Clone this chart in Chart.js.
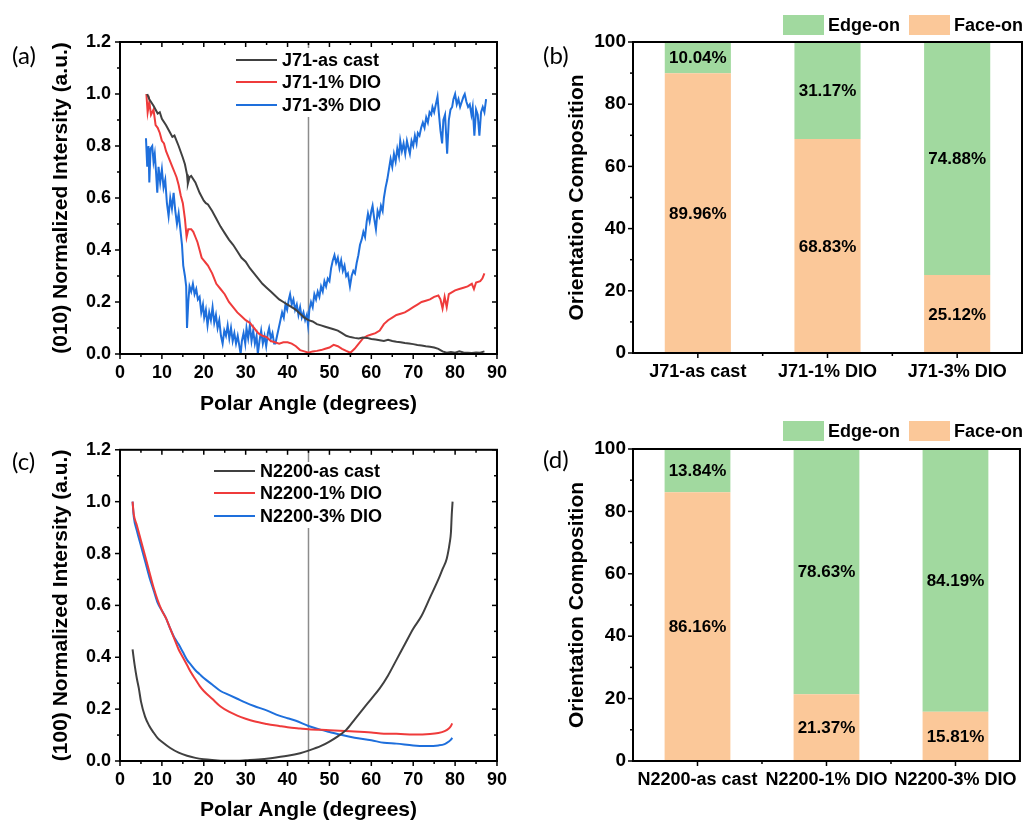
<!DOCTYPE html>
<html>
<head>
<meta charset="utf-8">
<script src="https://cdn.jsdelivr.net/npm/chart.js@4.4.0/dist/chart.umd.min.js"></script>
<style>
  body { margin: 0; background: #fff; width: 1025px; height: 823px; position: relative; overflow: hidden; }
  canvas { position: absolute; }
  .tag { position: absolute; font-family: Lato, 'Open Sans', sans-serif; font-size: 24px; line-height: 28px; color: #000; }
</style>
</head>
<body>
<canvas id="pa" width="515" height="420" style="left:0;top:0"></canvas>
<canvas id="pb" width="505" height="400" style="left:520px;top:0"></canvas>
<canvas id="pc" width="515" height="393" style="left:0;top:430px"></canvas>
<canvas id="pd" width="505" height="413" style="left:520px;top:410px"></canvas>
<div class="tag" style="left:12px;top:41px">(a)</div>
<div class="tag" style="left:543px;top:41px">(b)</div>
<div class="tag" style="left:12px;top:447px">(c)</div>
<div class="tag" style="left:543px;top:445px">(d)</div>
<script>
// ── Data: (a) J71, (010) intensity vs polar angle ──
const j71CastX = [6.5,7,8,9,9.5,10,11,12,12.5,13,14,15,15.5,16,16.2,16.6,17,18,19,20,20.5,21,22,23,24,25,26,27,28,29,30,31,32,33,34,35,36,37,38,39,40,41,42,43,44,45,46,47,48,49,50,51,52,53,54,55,56,57,58,59,60,61,62,63,64,65,66,67,68,69,70,71,72,73,74,75,76,77,78,79,80,81,82,83,84,85,86,87];
const j71CastY = [1.0,0.98,0.955,0.925,0.93,0.905,0.88,0.85,0.835,0.84,0.80,0.755,0.73,0.69,0.655,0.68,0.685,0.66,0.62,0.59,0.58,0.575,0.55,0.52,0.49,0.465,0.44,0.42,0.395,0.37,0.355,0.33,0.31,0.29,0.27,0.255,0.24,0.225,0.21,0.20,0.19,0.18,0.17,0.155,0.14,0.13,0.125,0.115,0.11,0.105,0.10,0.095,0.09,0.08,0.07,0.065,0.062,0.06,0.063,0.062,0.058,0.056,0.053,0.05,0.055,0.05,0.047,0.045,0.042,0.04,0.038,0.035,0.033,0.03,0.028,0.025,0.02,0.01,0.005,0.008,0.005,0.01,0.006,0.005,0.004,0.006,0.005,0.01];

const j71Dio1X = [6.3,6.6,7,7.4,8,8.5,9,9.5,10,10.5,11,11.5,12,12.5,13,13.5,14,14.5,15,15.5,15.9,16.3,17,17.5,18,18.5,19,19.5,20,20.5,21,22,23,24,25,26,27,28,29,30,31,32,33,34,35,36,37,38,39,40,41,42,43,44,45,46,47,48,49,50,51,52,53,54,55,56,57,58,59,60,61,62,63,64,65,66,67,68,69,70,71,72,73,74,75,76,76.5,77,77.5,78,78.5,79,80,81,82,83,84,84.5,85,86,86.5,87];
const j71Dio1Y = [1.0,0.93,0.97,0.92,0.94,0.88,0.87,0.85,0.82,0.81,0.78,0.76,0.74,0.72,0.70,0.68,0.65,0.61,0.58,0.52,0.45,0.48,0.48,0.47,0.45,0.43,0.40,0.37,0.36,0.35,0.34,0.31,0.27,0.25,0.23,0.20,0.18,0.16,0.145,0.13,0.12,0.10,0.08,0.07,0.065,0.05,0.045,0.04,0.045,0.045,0.04,0.03,0.015,0.01,0.005,0.01,0.012,0.015,0.02,0.025,0.035,0.03,0.02,0.012,0.005,0.02,0.04,0.06,0.07,0.075,0.08,0.09,0.115,0.13,0.14,0.15,0.155,0.16,0.17,0.18,0.19,0.20,0.205,0.21,0.22,0.225,0.21,0.175,0.22,0.18,0.23,0.235,0.245,0.25,0.255,0.26,0.27,0.25,0.275,0.28,0.29,0.31];

const j71Dio3X = [6.2,6.5,6.8,7.0,7.3,7.7,8.0,8.3,8.6,8.9,9.2,9.6,10.0,10.4,10.8,11.2,11.6,12.0,12.4,12.8,13.2,13.6,14.0,14.4,14.8,15.1,15.5,15.8,16.0,16.3,16.6,17.0,17.4,17.8,18.2,18.6,19.0,19.4,19.8,20.1,20.5,20.9,21.3,21.7,22.1,22.5,22.9,23.3,23.7,24.1,24.5,24.9,25.3,25.7,26.1,26.5,26.9,27.3,27.7,28.1,28.5,28.8,29.1,29.5,29.9,30.2,30.6,31.0,31.4,31.8,32.2,32.6,32.9,33.3,33.7,34.1,34.5,34.9,35.3,35.6,36.0,36.4,36.8,37.1,37.5,37.9,38.3,38.7,39.1,39.5,39.9,40.3,40.6,41.0,41.4,41.8,42.2,42.6,43.0,43.4,43.8,44.2,44.6,44.9,45.2,45.6,46.0,46.4,46.8,47.2,47.6,48.0,48.4,48.8,49.2,49.6,50.0,50.4,50.8,51.2,51.6,52.0,52.4,52.8,53.2,53.6,54.0,54.4,54.9,55.3,55.7,56.1,56.5,56.9,57.3,57.7,58.1,58.5,58.9,59.2,59.6,60.0,60.3,60.7,61.1,61.5,61.9,62.3,62.7,63.0,63.4,63.8,64.2,64.6,65.0,65.4,65.8,66.2,66.6,66.9,67.3,67.7,68.1,68.5,68.9,69.2,69.6,70.0,70.4,70.8,71.1,71.5,71.9,72.3,72.7,73.1,73.5,73.9,74.3,74.6,75.0,75.4,75.8,76.1,76.5,76.9,77.2,77.6,78.1,78.5,78.9,79.3,79.6,80.0,80.4,80.8,81.2,81.6,82.0,82.3,82.7,83.1,83.5,83.9,84.2,84.6,85.0,85.4,85.8,86.2,86.6,87.0,87.4];
const j71Dio3Y = [0.83,0.72,0.80,0.66,0.79,0.80,0.74,0.77,0.70,0.62,0.72,0.66,0.71,0.64,0.67,0.58,0.53,0.60,0.56,0.62,0.55,0.50,0.54,0.48,0.42,0.34,0.30,0.26,0.10,0.20,0.26,0.24,0.27,0.23,0.25,0.21,0.22,0.16,0.19,0.14,0.17,0.11,0.16,0.13,0.18,0.12,0.15,0.10,0.13,0.07,0.04,0.09,0.07,0.11,0.06,0.10,0.05,0.08,0.04,0.07,0.03,0.0,0.05,0.08,0.04,0.10,0.06,0.11,0.05,0.09,0.04,0.07,0.0,0.05,0.09,0.04,0.07,0.03,0.08,0.10,0.06,0.08,0.04,0.04,0.07,0.10,0.13,0.16,0.14,0.19,0.17,0.21,0.23,0.19,0.21,0.17,0.19,0.15,0.18,0.14,0.16,0.13,0.15,0.11,0.17,0.20,0.18,0.23,0.21,0.24,0.22,0.26,0.24,0.28,0.26,0.29,0.28,0.33,0.36,0.38,0.35,0.37,0.33,0.36,0.32,0.34,0.30,0.31,0.26,0.30,0.32,0.31,0.35,0.38,0.42,0.44,0.47,0.45,0.51,0.54,0.51,0.55,0.57,0.52,0.48,0.55,0.53,0.57,0.55,0.60,0.64,0.67,0.71,0.75,0.72,0.77,0.74,0.79,0.76,0.82,0.78,0.81,0.77,0.82,0.79,0.77,0.82,0.80,0.84,0.81,0.85,0.84,0.87,0.89,0.87,0.91,0.89,0.93,0.92,0.95,0.93,0.96,0.99,0.93,0.86,0.81,0.90,0.92,0.77,0.90,0.94,0.95,0.98,1.0,0.96,0.98,0.95,0.97,0.99,1.0,0.97,0.95,0.96,0.92,0.95,0.84,0.94,0.92,0.84,0.93,0.95,0.93,0.98];

// ── Data: (c) N2200, (100) intensity vs polar angle ──
const n22CastX = [3,3.5,4,4.5,5,6,7,8,9,10,12,14,16,18,20,22,25,28,30,33,36,40,43,45,48,50,52,54,56,58,60,62,64,66,68,70,72,74,76,77,78,78.7,79,79.2,79.4];
const n22CastY = [0.43,0.37,0.32,0.28,0.23,0.17,0.135,0.11,0.088,0.074,0.05,0.032,0.02,0.012,0.007,0.004,0.001,0.001,0.003,0.006,0.011,0.02,0.03,0.04,0.058,0.075,0.095,0.12,0.16,0.20,0.24,0.28,0.33,0.39,0.45,0.51,0.56,0.63,0.70,0.74,0.78,0.84,0.88,0.95,1.0];

const n22Dio1X = [3,3.3,4,5,6,7,8,9,10,11,12,13,14,15,16,17,18,19,20,22,24,26,28,30,32,35,38,40,43,45,50,55,60,63,66,70,74,76,77.5,78.5,79,79.3];
const n22Dio1Y = [1.0,0.95,0.91,0.85,0.79,0.73,0.67,0.62,0.58,0.55,0.51,0.47,0.43,0.40,0.37,0.34,0.315,0.29,0.27,0.24,0.21,0.19,0.175,0.163,0.153,0.143,0.135,0.13,0.125,0.122,0.119,0.115,0.11,0.105,0.105,0.102,0.104,0.108,0.115,0.125,0.135,0.145];

const n22Dio3X = [3,3.3,4,5,6,7,8,9,10,11,12,13,14,15,16,17,18,19,20,22,24,26,28,30,32,35,38,40,42,45,48,50,53,56,60,63,66,70,73,76,77.5,78.5,79,79.3];
const n22Dio3Y = [1.0,0.94,0.89,0.83,0.77,0.71,0.66,0.61,0.58,0.55,0.51,0.475,0.45,0.42,0.39,0.37,0.35,0.335,0.32,0.295,0.27,0.255,0.24,0.225,0.212,0.195,0.175,0.165,0.155,0.135,0.12,0.112,0.10,0.09,0.08,0.07,0.067,0.06,0.058,0.06,0.065,0.075,0.082,0.09];

// ── Data: (b), (d) orientation composition (%) ──
const j71Samples = ['J71-as cast', 'J71-1% DIO', 'J71-3% DIO'];
const j71FaceOn = [89.96, 68.83, 25.12];
const j71EdgeOn = [10.04, 31.17, 74.88];
const n22Samples = ['N2200-as cast', 'N2200-1% DIO', 'N2200-3% DIO'];
const n22FaceOn = [86.16, 21.37, 15.81];
const n22EdgeOn = [13.84, 78.63, 84.19];

// ── Styles ──
const FONT = "'Liberation Sans', Arial, sans-serif";
const BLACK = '#404040', RED = '#ef3b3b', BLUE = '#1e6fdc';
const GREEN = '#a1d99f', ORANGE = '#fbc899';

Chart.defaults.font.family = FONT;
Chart.defaults.font.weight = 'bold';
Chart.defaults.color = '#000';

const pts = (xs, ys) => xs.map((x, i) => ({ x: x, y: ys[i] }));

// frame, minor ticks, 45° line, legends, bar labels
const decor = {
  id: 'decor',
  beforeDatasetsDraw(chart, args, o) {
    if (o.vline == null) return;
    const ctx = chart.ctx, a = chart.chartArea;
    const x = chart.scales.x.getPixelForValue(o.vline);
    ctx.save();
    ctx.strokeStyle = '#8c8c8c';
    ctx.lineWidth = 1.5;
    ctx.beginPath(); ctx.moveTo(x, a.top); ctx.lineTo(x, a.bottom); ctx.stroke();
    ctx.restore();
  },
  afterDatasetsDraw(chart, args, o) {
    const ctx = chart.ctx;
    ctx.save();
    if (o.lineLegend) {
      const L = o.lineLegend;
      ctx.fillStyle = '#fff';
      ctx.fillRect(L.box[0], L.box[1], L.box[2], L.box[3]);
      ctx.font = 'bold 18px ' + FONT;
      ctx.textBaseline = 'middle';
      chart.data.datasets.forEach((ds, i) => {
        const y = L.ys[i];
        ctx.strokeStyle = ds.borderColor; ctx.lineWidth = 2;
        ctx.beginPath(); ctx.moveTo(L.x0, y); ctx.lineTo(L.x1, y); ctx.stroke();
        ctx.fillStyle = '#000';
        ctx.fillText(ds.label, L.tx, y + 1);
      });
    }
    if (o.barLegend) {
      const L = o.barLegend;
      ctx.font = 'bold 18px ' + FONT;
      ctx.textBaseline = 'middle';
      L.order.forEach((di, k) => {
        const ds = chart.data.datasets[di];
        ctx.fillStyle = ds.backgroundColor;
        ctx.fillRect(L.xs[k], L.y, 41, 20);
        ctx.fillStyle = '#000';
        ctx.fillText(ds.label, L.xs[k] + 45, L.y + 11);
      });
    }
    if (o.barLabels) {
      ctx.font = 'bold 17px ' + FONT;
      ctx.textAlign = 'center';
      ctx.textBaseline = 'middle';
      ctx.fillStyle = '#000';
      chart.data.datasets.forEach((ds, i) => {
        chart.getDatasetMeta(i).data.forEach((bar, j) => {
          const p = bar.getProps(['x', 'y', 'base'], true);
          ctx.fillText(ds.data[j].toFixed(2) + '%', p.x, (p.y + p.base) / 2 + 1);
        });
      });
    }
    ctx.restore();
  },
  afterDraw(chart, args, o) {
    const ctx = chart.ctx, a = chart.chartArea;
    const sx = chart.scales.x, sy = chart.scales.y;
    ctx.save();
    ctx.strokeStyle = '#000';
    ctx.lineWidth = 1.5;
    const seg = (x1, y1, x2, y2) => { ctx.beginPath(); ctx.moveTo(x1, y1); ctx.lineTo(x2, y2); ctx.stroke(); };
    const mids = v => v.slice(1).map((t, i) => (t + v[i]) / 2);

    let xMaj, xMin;
    if (sx.type === 'category') {
      xMaj = sx.getLabels().map((_, i) => i);
      xMin = xMaj.slice(1).map(i => i - 0.5);
    } else {
      xMaj = sx.ticks.map(t => t.value);
      xMin = mids(xMaj);
    }
    const yMaj = sy.ticks.map(t => t.value);
    const yMin = mids(yMaj);

    xMaj.forEach(v => { const p = sx.getPixelForValue(v); seg(p, a.bottom, p, a.bottom + 5); if (o.mirror) seg(p, a.top, p, a.top + 5); });
    xMin.forEach(v => { const p = sx.getPixelForValue(v); seg(p, a.bottom, p, a.bottom + 3); if (o.mirror) seg(p, a.top, p, a.top + 3); });
    yMaj.forEach(v => { const p = sy.getPixelForValue(v); seg(a.left, p, a.left - 5, p); if (o.mirror) seg(a.right, p, a.right - 5, p); });
    yMin.forEach(v => { const p = sy.getPixelForValue(v); seg(a.left, p, a.left - 3, p); if (o.mirror) seg(a.right, p, a.right - 3, p); });

    ctx.lineWidth = 2;
    ctx.strokeRect(a.left, a.top, a.right - a.left, a.bottom - a.top);
    ctx.restore();
  }
};

function lineChart(id, sets, yTitle, pad, xH, titlePadBottom, legend, smooth) {
  return new Chart(document.getElementById(id), {
    type: 'line',
    data: {
      datasets: sets.map(s => ({
        label: s.label,
        data: pts(s.x, s.y),
        borderColor: s.color,
        borderWidth: 2,
        pointRadius: 0,
        fill: false,
        cubicInterpolationMode: smooth ? 'monotone' : 'default'
      }))
    },
    options: {
      responsive: false,
      animation: false,
      layout: { padding: pad },
      plugins: {
        legend: { display: false },
        tooltip: { enabled: false },
        decor: { vline: 45, mirror: true, lineLegend: legend }
      },
      scales: {
        x: {
          type: 'linear', min: 0, max: 90,
          grid: { display: false, drawTicks: false },
          border: { display: false },
          ticks: { stepSize: 10, padding: 8, font: { size: 18 } },
          title: { display: true, text: 'Polar Angle (degrees)', font: { size: 21, weight: 'bold' }, padding: { top: 0, bottom: titlePadBottom } },
          afterFit: s => { s.height = xH; }
        },
        y: {
          min: 0, max: 1.2,
          grid: { display: false, drawTicks: false },
          border: { display: false },
          ticks: { stepSize: 0.2, padding: 9, font: { size: 18 }, callback: v => v.toFixed(1) },
          title: { display: true, text: yTitle, font: { size: 21, weight: 'bold' }, padding: { top: 49, bottom: 0 } },
          afterFit: s => { s.width = 120; }
        }
      }
    },
    plugins: [decor]
  });
}

function barChart(id, samples, face, edge, pad, xH, legendY) {
  return new Chart(document.getElementById(id), {
    type: 'bar',
    data: {
      labels: samples,
      datasets: [
        { label: 'Face-on', data: face, backgroundColor: ORANGE, borderWidth: 0 },
        { label: 'Edge-on', data: edge, backgroundColor: GREEN, borderWidth: 0 }
      ]
    },
    options: {
      responsive: false,
      animation: false,
      layout: { padding: pad },
      datasets: { bar: { barPercentage: 0.51, categoryPercentage: 1 } },
      plugins: {
        legend: { display: false },
        tooltip: { enabled: false },
        decor: { mirror: false, barLabels: true, barLegend: { order: [1, 0], xs: [263, 389], y: legendY } }
      },
      scales: {
        x: {
          stacked: true,
          grid: { display: false, drawTicks: false },
          border: { display: false },
          ticks: { padding: 8, font: { size: 18 }, maxRotation: 0, autoSkip: false },
          afterFit: s => { s.height = xH; }
        },
        y: {
          stacked: true, min: 0, max: 100,
          grid: { display: false, drawTicks: false },
          border: { display: false },
          ticks: { stepSize: 20, padding: 7, font: { size: 19 } },
          title: { display: true, text: 'Orientation Composition', font: { size: 21, weight: 'bold' }, padding: { top: 45, bottom: 0 } },
          afterFit: s => { s.width = 113; }
        }
      }
    },
    plugins: [decor]
  });
}

// (a)
lineChart('pa', [
  { label: 'J71-as cast', x: j71CastX, y: j71CastY, color: BLACK },
  { label: 'J71-1% DIO', x: j71Dio1X, y: j71Dio1Y, color: RED },
  { label: 'J71-3% DIO', x: j71Dio3X, y: j71Dio3Y, color: BLUE }
], '(010) Normalized Intersity (a.u.)', { top: 42, right: 7, left: 0, bottom: 0 }, 66, 3,
  { box: [228, 48, 166, 69], x0: 236, x1: 277, tx: 282, ys: [60, 82, 105] }, false);

// (b)
barChart('pb', j71Samples, j71FaceOn, j71EdgeOn, { top: 42, right: 3, left: 0, bottom: 0 }, 47, 15);

// (c)
lineChart('pc', [
  { label: 'N2200-as cast', x: n22CastX, y: n22CastY, color: BLACK },
  { label: 'N2200-1% DIO', x: n22Dio1X, y: n22Dio1Y, color: RED },
  { label: 'N2200-3% DIO', x: n22Dio3X, y: n22Dio3Y, color: BLUE }
], '(100) Normalized Intersity (a.u.)', { top: 19, right: 7, left: 0, bottom: 0 }, 62, 0,
  { box: [206, 32, 194, 66], x0: 214, x1: 255, tx: 260, ys: [41, 63, 86] }, true);

// (d)
barChart('pd', n22Samples, n22FaceOn, n22EdgeOn, { top: 39, right: 3, left: 0, bottom: 0 }, 62, 11);
</script>
</body>
</html>
